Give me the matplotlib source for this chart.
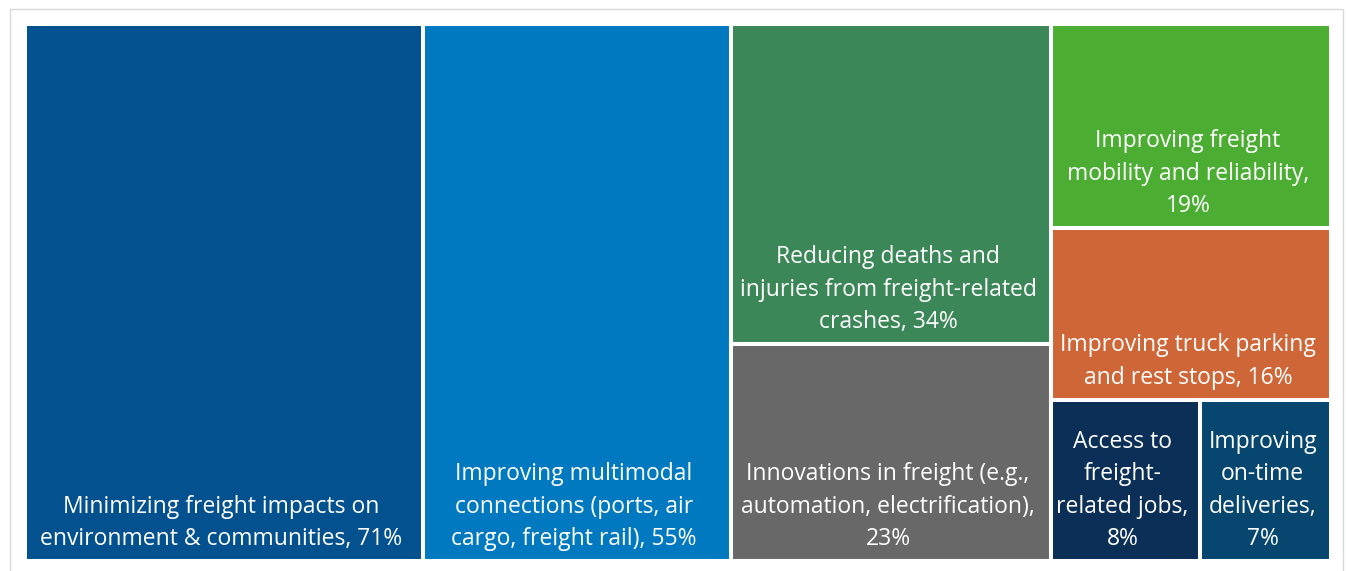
import matplotlib
matplotlib.use("Agg")
import matplotlib.pyplot as plt
from matplotlib.patches import Rectangle

labels = [
    "Minimizing freight impacts on\nenvironment & communities, 71%",
    "Improving multimodal\nconnections (ports, air\ncargo, freight rail), 55%",
    "Reducing deaths and\ninjuries from freight-related\ncrashes, 34%",
    "Innovations in freight (e.g.,\nautomation, electrification),\n23%",
    "Improving freight\nmobility and reliability,\n19%",
    "Improving truck parking\nand rest stops, 16%",
    "Access to\nfreight-\nrelated jobs,\n8%",
    "Improving\non-time\ndeliveries,\n7%",
]
values = [71, 55, 34, 23, 19, 16, 8, 7]
colors = ["#03518F", "#0079C1", "#3B8758", "#686868",
          "#4BAE32", "#CF6637", "#0B2F56", "#07476F"]

W_PX, H_PX = 1346, 571
fig = plt.figure(figsize=(W_PX / 100, H_PX / 100), dpi=100)

# outer light frame
fig.patches.append(Rectangle((10 / W_PX, -0.05), (1343 - 10) / W_PX, (H_PX - 9) / H_PX + 0.05,
                             transform=fig.transFigure, fill=False,
                             edgecolor="#D9D9D9", linewidth=1.0))

ax_l, ax_r, ax_t, ax_b = 25, 1331, 24, 561
ax = fig.add_axes([ax_l / W_PX, (H_PX - ax_b) / H_PX, (ax_r - ax_l) / W_PX, (ax_b - ax_t) / H_PX])
AW, AH = ax_r - ax_l, ax_b - ax_t
ax.set_xlim(0, AW)
ax.set_ylim(AH, 0)
ax.axis("off")


def worst(row, w):
    s = sum(row)
    return max(max(w * w * r / (s * s), s * s / (w * w * r)) for r in row)


def squarify(vals, x, y, dx, dy):
    total = sum(vals)
    areas = [v * dx * dy / total for v in vals]
    rects = []
    while areas:
        short = min(dx, dy)
        row = [areas[0]]
        i = 1
        while i < len(areas) and worst(row + [areas[i]], short) <= worst(row, short):
            row.append(areas[i])
            i += 1
        s = sum(row)
        if dy <= dx:  # column on the left
            cw = s / dy
            yy = y
            for a in row:
                h = a / cw
                rects.append((x, yy, cw, h))
                yy += h
            x += cw
            dx -= cw
        else:  # row on top
            rh = s / dx
            xx = x
            for a in row:
                w = a / rh
                rects.append((xx, y, w, rh))
                xx += w
            y += rh
            dy -= rh
        areas = areas[i:]
    return rects


rects = squarify(values, 0, 0, AW, AH)
for (x, y, w, h), lab, c in zip(rects, labels, colors):
    ax.add_patch(Rectangle((x, y), w, h, facecolor=c, edgecolor="white",
                           linewidth=2.9, joinstyle="miter"))
    ax.text(x + w / 2 - 3, y + h - 10, lab, ha="center", va="bottom",
            multialignment="center", color="white", fontsize=16.5,
            family=["Open Sans", "DejaVu Sans"], linespacing=1.47)

fig.savefig("out.png", dpi=100, facecolor="white")
